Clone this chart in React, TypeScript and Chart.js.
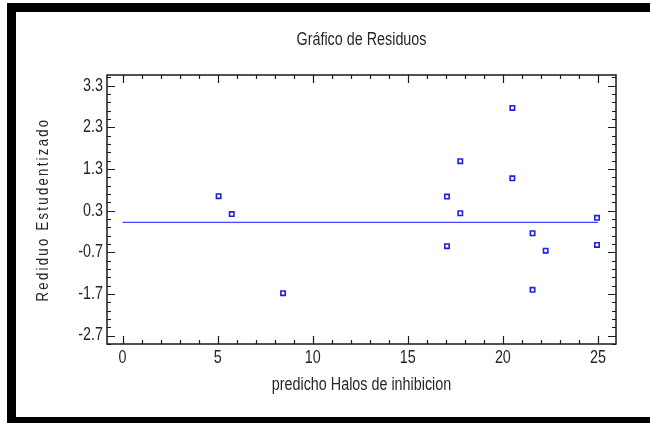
import React, { useEffect, useRef } from "react";
import { Chart, registerables } from "chart.js";

Chart.register(...registerables);

// ---- data ----
const predicted = [5.05, 5.74, 8.44, 17.06, 17.06, 17.76, 17.76, 20.5, 20.5, 21.56, 21.56, 22.25, 24.95, 24.95];
const residuals = [0.65, 0.22, -1.68, 0.64, -0.55, 1.49, 0.24, 2.77, 1.08, -0.24, -1.6, -0.66, 0.13, -0.52];
const refLineX = [0, 25];
const refLineY = [0.02, 0.02];
const xTickLabels = [0, 5, 10, 15, 20, 25];
const yTickLabels = [-2.7, -1.7, -0.7, 0.3, 1.3, 2.3, 3.3];

const chartTitle = "Gráfico de Residuos";
const xTitle = "predicho Halos de inhibicion";
const yTitle = "Rediduo Estudentizado";

const FAMILY = '"Liberation Sans", Arial, sans-serif';
const TEXT = "#262626";
const NARROW = 0.82;

function narrowText(ctx: CanvasRenderingContext2D, text: string, x: number, y: number, align: CanvasTextAlign) {
  ctx.save();
  ctx.translate(x, y);
  ctx.scale(NARROW, 1);
  ctx.textAlign = align;
  ctx.fillText(text, 0, 0);
  ctx.restore();
}

const framePlugin = {
  id: "statFrame",
  beforeDraw(chart: any) {
    const { ctx, width, height } = chart;
    ctx.save();
    ctx.fillStyle = "#ffffff";
    ctx.fillRect(0, 0, width, height);
    ctx.fillStyle = "#000000";
    ctx.fillRect(7, 3, width - 7, 9);
    ctx.fillRect(7, 3, 9, height - 3);
    ctx.fillRect(7, 417, width - 7, 6);
    ctx.restore();
  },
  afterDraw(chart: any) {
    const { ctx, chartArea: a, scales } = chart;
    const xs = scales.x;
    const ys = scales.y;
    ctx.save();
    ctx.strokeStyle = "#1a1a1a";
    ctx.lineWidth = 1.5;
    ctx.strokeRect(a.left, a.top, a.right - a.left, a.bottom - a.top);
    ctx.lineWidth = 1.2;
    ctx.beginPath();
    for (let i = 0; i <= 25; i++) {
      const px = Math.round(xs.getPixelForValue(i)) + 0.5;
      const len = i % 5 === 0 ? 8 : 4;
      ctx.moveTo(px, a.bottom);
      ctx.lineTo(px, a.bottom - len);
      ctx.moveTo(px, a.top);
      ctx.lineTo(px, a.top + len);
    }
    for (let i = -29; i <= 35; i += 2) {
      const py = Math.round(ys.getPixelForValue(i / 10)) + 0.5;
      const major = (i + 27) % 10 === 0;
      const len = major ? 8 : 4;
      ctx.moveTo(a.left, py);
      ctx.lineTo(a.left + len, py);
      ctx.moveTo(a.right, py);
      ctx.lineTo(a.right - len, py);
    }
    ctx.stroke();

    ctx.fillStyle = TEXT;
    ctx.textBaseline = "middle";
    ctx.font = `17.5px ${FAMILY}`;
    // tick labels, placed through the chart's scales
    for (const v of xTickLabels) {
      narrowText(ctx, String(v), xs.getPixelForValue(v), 358, "center");
    }
    for (const v of yTickLabels) {
      narrowText(ctx, v.toFixed(1), a.left - 4, ys.getPixelForValue(v), "right");
    }

    const cx = (a.left + a.right) / 2;
    const cy = (a.top + a.bottom) / 2;
    narrowText(ctx, chartTitle, cx, 40, "center");
    narrowText(ctx, xTitle, cx, 385, "center");

    ctx.save();
    ctx.translate(44, cy);
    ctx.rotate(-Math.PI / 2);
    ctx.scale(NARROW, 1);
    ctx.font = `16px ${FAMILY}`;
    (ctx as any).letterSpacing = "2.8px";
    ctx.textAlign = "center";
    ctx.fillText(yTitle, 0, 0);
    ctx.restore();
    ctx.restore();
  },
};

export default function App() {
  const ref = useRef<HTMLCanvasElement | null>(null);

  useEffect(() => {
    if (!ref.current) return;
    const chart = new Chart(ref.current, {
      type: "scatter",
      data: {
        datasets: [
          {
            type: "line",
            data: refLineX.map((x, i) => ({ x, y: refLineY[i] })),
            borderColor: "#4646ff",
            borderWidth: 1.2,
            pointRadius: 0,
            fill: false,
          } as any,
          {
            data: predicted.map((x, i) => ({ x, y: residuals[i] })),
            pointStyle: "rect",
            pointRadius: 3.1,
            pointBorderWidth: 1.6,
            borderColor: "#2020e0",
            backgroundColor: "#ffffff",
          } as any,
        ],
      },
      options: {
        animation: false,
        responsive: false,
        maintainAspectRatio: false,
        layout: { padding: { left: 0, right: 34, top: 75, bottom: 0 } },
        plugins: {
          legend: { display: false },
          title: { display: false },
          tooltip: { enabled: false },
        },
        scales: {
          x: {
            type: "linear",
            min: -0.82,
            max: 25.95,
            grid: { display: false, drawTicks: false },
            border: { display: false },
            ticks: { display: false },
            afterFit: (s: any) => {
              s.height = 79;
            },
          },
          y: {
            type: "linear",
            min: -2.9,
            max: 3.56,
            grid: { display: false, drawTicks: false },
            border: { display: false },
            ticks: { display: false },
            afterFit: (s: any) => {
              s.width = 107;
            },
          },
        },
      } as any,
      plugins: [framePlugin],
    });
    return () => chart.destroy();
  }, []);

  return (
    <div style={{ position: "fixed", left: 0, top: 0, width: 650, height: 423 }}>
      <canvas ref={ref} width={650} height={423} style={{ width: 650, height: 423, display: "block" }} />
    </div>
  );
}
